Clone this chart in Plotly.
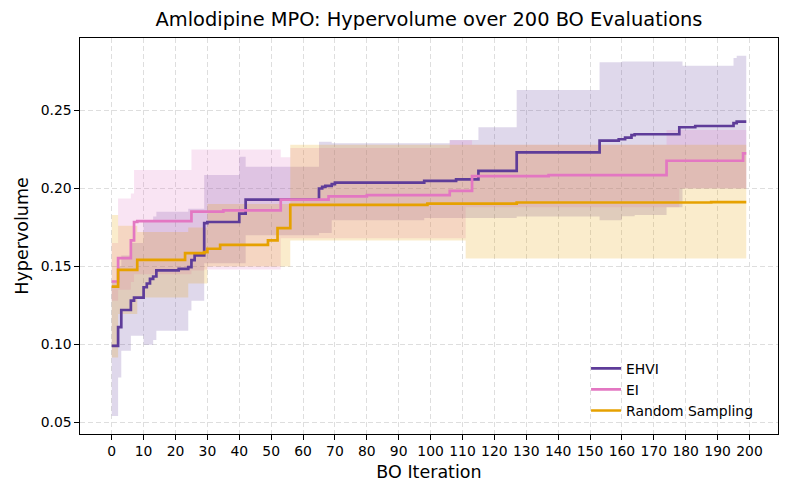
import plotly.graph_objects as go

# ---------------- data ----------------
# step change points (iteration, value); series run to iteration 199
ehvi_x = [0, 2, 3, 6, 7, 10, 11, 12, 13, 14, 21, 24, 25, 26, 29, 30, 40, 42, 65, 66, 67, 69, 70,
          98, 108, 115, 127, 153, 159, 161, 163, 164, 178, 183, 195, 196, 199]
ehvi_mean = [0.099, 0.111, 0.122, 0.128, 0.130, 0.1366, 0.139, 0.142, 0.1435, 0.1474, 0.1484, 0.1495,
             0.154, 0.157, 0.1778, 0.1785, 0.1839, 0.1929, 0.200, 0.201, 0.2017, 0.2028, 0.2038,
             0.2049, 0.2058, 0.2113, 0.2232, 0.2307, 0.2316, 0.2326, 0.2343, 0.2348, 0.2393, 0.2401,
             0.2419, 0.2429, 0.2429]

ei_x = [0, 2, 6, 7, 8, 25, 35, 53, 68, 80, 106, 113, 137, 174, 198, 199]
ei_mean = [0.1403, 0.1553, 0.1667, 0.1785, 0.1791, 0.1852, 0.186, 0.1929, 0.195, 0.1957, 0.1985,
           0.2079, 0.2086, 0.2178, 0.2225, 0.2225]

rand_x = [0, 2, 8, 23, 29, 30, 34, 49, 52, 56, 99, 127, 188, 199]
rand_mean = [0.137, 0.1478, 0.1542, 0.1585, 0.1592, 0.1613, 0.1638, 0.1667, 0.1745, 0.1895, 0.1903,
             0.191, 0.1913, 0.1913]

# bands (lower / upper) as step change points
ehvi_band_x = [0, 2, 3, 6, 10, 13, 14, 24, 25, 29, 40, 42, 65, 69, 98, 106, 115, 127, 153, 160,
               164, 174, 179, 195, 196, 199]
ehvi_lo = [0.054, 0.0786, 0.0958, 0.1055, 0.0997, 0.1027, 0.1087, 0.1216, 0.128, 0.152, 0.152, 0.170,
           0.1714, 0.1796, 0.181, 0.181, 0.181, 0.182, 0.1796, 0.1822, 0.183, 0.188, 0.200, 0.200,
           0.200, 0.200]
ehvi_hi = [0.140, 0.150, 0.157, 0.165, 0.179, 0.182, 0.185, 0.187, 0.187, 0.2086, 0.2204, 0.214,
           0.230, 0.229, 0.229, 0.2311, 0.2393, 0.2633, 0.281, 0.2815, 0.2815, 0.2815, 0.2788,
           0.2837, 0.2852, 0.2852]

ei_band_x = [0, 2, 6, 7, 25, 29, 53, 56, 106, 111, 113, 174, 178, 199]
ei_lo = [0.128, 0.135, 0.140, 0.145, 0.1474, 0.148, 0.168, 0.168, 0.168, 0.188, 0.188, 0.188, 0.200, 0.200]
ei_hi = [0.165, 0.1936, 0.1968, 0.2118, 0.2251, 0.2251, 0.220, 0.226, 0.231, 0.231, 0.228, 0.2375,
         0.2375, 0.2375]

rand_band_x = [0, 2, 8, 24, 30, 56, 111, 199]
rand_lo = [0.0915, 0.1195, 0.130, 0.139, 0.150, 0.1666, 0.155, 0.155]
rand_hi = [0.183, 0.176, 0.172, 0.175, 0.190, 0.228, 0.228, 0.228]

x_ticks = list(range(0, 201, 10))
y_ticks = [0.05, 0.10, 0.15, 0.20, 0.25]

names = ["EHVI", "EI", "Random Sampling"]
line_colors = ["#5e3c99", "#e377c2", "#e6a100"]
band_colors = ["rgba(94,60,153,0.2)", "rgba(227,119,194,0.2)", "rgba(230,161,0,0.2)"]

FONT = "DejaVu Sans"

fig = go.Figure()

bands = [(ehvi_band_x, ehvi_lo, ehvi_hi), (ei_band_x, ei_lo, ei_hi), (rand_band_x, rand_lo, rand_hi)]
for (bx, lo, hi), bc in zip(bands, band_colors):
    fig.add_trace(go.Scatter(x=bx, y=lo, mode="lines", line=dict(width=0, shape="hv"),
                             showlegend=False, hoverinfo="skip"))
    fig.add_trace(go.Scatter(x=bx, y=hi, mode="lines", line=dict(width=0, shape="hv"),
                             fill="tonexty", fillcolor=bc, showlegend=False, hoverinfo="skip"))

means = [(ehvi_x, ehvi_mean), (ei_x, ei_mean), (rand_x, rand_mean)]
for (mx, my), name, lc in zip(means, names, line_colors):
    fig.add_trace(go.Scatter(x=mx, y=my, mode="lines", name=name, legendgroup=name,
                             line=dict(color=lc, width=2.7, shape="hv")))

axis_common = dict(
    showline=True, linecolor="black", linewidth=1.1, mirror=True,
    ticks="outside", ticklen=4.5, tickwidth=1.1, tickcolor="black",
    showgrid=True, gridcolor="rgba(200,200,200,0.6)", griddash="5px,3px", gridwidth=1,
    zeroline=False, tickfont=dict(family=FONT, size=13.9, color="black"), automargin=False,
)

fig.update_layout(
    width=793, height=496,
    margin=dict(l=80, r=15, t=38, b=62, autoexpand=False),
    paper_bgcolor="white", plot_bgcolor="white",
    font=dict(family=FONT, color="black"),
    title=dict(text="Amlodipine MPO: Hypervolume over 200 BO Evaluations",
               font=dict(family=FONT, size=19.4, color="black"),
               x=0.5, xref="paper", xanchor="center", y=1 - 19 / 496, yref="container",
               yanchor="middle", automargin=False),
    xaxis=dict(axis_common, range=[-9.95, 208.95], tickvals=x_ticks,
               title=dict(text="BO Iteration", font=dict(family=FONT, size=17.5), standoff=7)),
    yaxis=dict(axis_common, range=[0.0424, 0.2966], tickvals=y_ticks, tickformat=".2f",
               title=dict(text="Hypervolume", font=dict(family=FONT, size=17.5), standoff=7)),
    legend=dict(x=0.725, y=0.205, xanchor="left", yanchor="top", bgcolor="rgba(0,0,0,0)",
                font=dict(family=FONT, size=13.9, color="black"), traceorder="normal",
                tracegroupgap=2),
    showlegend=True,
)

fig.write_html("out.html", config={"displayModeBar": False},
               post_script="document.body.style.margin='0';document.body.style.padding='0';")
